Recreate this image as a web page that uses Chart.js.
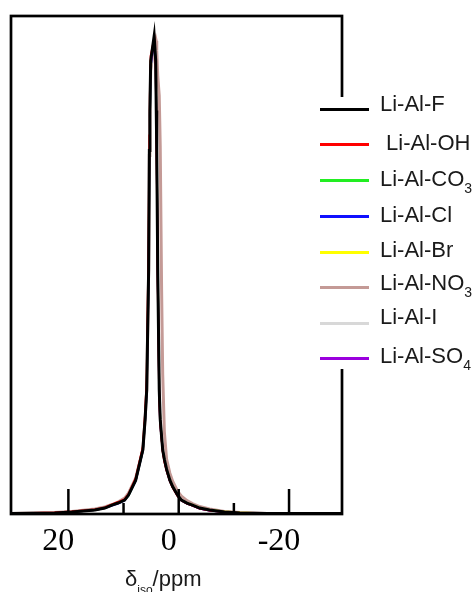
<!DOCTYPE html>
<html>
<head>
<meta charset="utf-8">
<script src="https://cdn.jsdelivr.net/npm/chart.js@4"></script>
<style>
  body { margin: 0; background: #fff; }
  #wrap { position: relative; width: 475px; height: 592px; overflow: hidden; }
  #legend { position: absolute; left: 312px; top: 97px; width: 163px; height: 272px; background: #fff; }
  .swatch { position: absolute; left: 8px; width: 49px; height: 3px; }
  .lab { position: absolute; left: 68px; font: 22px "Liberation Sans", Arial, sans-serif; line-height: 22px; color: #1a1a1a; white-space: pre; }
  .lab sub { font-size: 14px; vertical-align: -7px; line-height: 0; }
  #xtitle { position: absolute; left: 125px; top: 568px; font: 22px "Liberation Sans", Arial, sans-serif; line-height: 22px; color: #1a1a1a; white-space: pre; }
  #xtitle sub { font-size: 12px; vertical-align: -8px; line-height: 0; }
</style>
</head>
<body>
<div id="wrap">
  <canvas id="spec" width="475" height="592"></canvas>
  <div id="legend"></div>
  <div id="xtitle">δ<sub>iso</sub>/ppm</div>
</div>
<script>
// chemical shift grid (ppm), shared by all spectra
var shifts = [30.4, 22.5, 19.4, 15.2, 13.4, 12.1, 11.0, 9.8, 9.1, 7.8, 6.5, 6.1, 5.8, 5.45, 5.32, 5.22, 5.08, 4.45,
              4.17, 4.07, 3.98, 3.8, 3.53, 3.35, 3.1, 2.9, 2.6, 2.2, 1.6, 1.1, 0.2, -0.5, -1.5, -2.5, -3.8, -5.6, -8.3, -11.1, -16, -29.6];

// normalised intensities
var liAlF   = [0.001, 0.002, 0.004, 0.008, 0.012, 0.018, 0.022, 0.028, 0.038, 0.068, 0.129, 0.189, 0.249, 0.49, 0.73, 0.81, 0.91, 0.96,
               0.91, 0.81, 0.73, 0.49, 0.25, 0.19, 0.155, 0.129, 0.11, 0.09, 0.068, 0.055, 0.038, 0.028, 0.022, 0.018, 0.012, 0.008, 0.004, 0.002, 0.001, 0.001];
var liAlOH  = [0.001, 0.003, 0.005, 0.009, 0.013, 0.019, 0.024, 0.030, 0.040, 0.072, 0.135, 0.20, 0.27, 0.55, 0.76, 0.84, 0.92, 0.955,
               0.90, 0.79, 0.70, 0.46, 0.23, 0.18, 0.15, 0.125, 0.105, 0.087, 0.066, 0.053, 0.036, 0.027, 0.021, 0.017, 0.011, 0.007, 0.004, 0.002, 0.001, 0.001];
var liAlCO3 = [0.001, 0.002, 0.004, 0.008, 0.012, 0.018, 0.022, 0.028, 0.037, 0.067, 0.128, 0.187, 0.247, 0.49, 0.72, 0.80, 0.90, 0.95,
               0.90, 0.80, 0.72, 0.48, 0.25, 0.19, 0.153, 0.128, 0.109, 0.089, 0.067, 0.054, 0.037, 0.027, 0.021, 0.017, 0.012, 0.008, 0.004, 0.002, 0.001, 0.001];
var liAlCl  = [0.001, 0.002, 0.004, 0.008, 0.012, 0.017, 0.021, 0.027, 0.037, 0.066, 0.127, 0.186, 0.245, 0.48, 0.72, 0.80, 0.90, 0.95,
               0.91, 0.80, 0.72, 0.48, 0.24, 0.18, 0.152, 0.127, 0.108, 0.088, 0.066, 0.054, 0.037, 0.027, 0.021, 0.017, 0.011, 0.007, 0.004, 0.002, 0.001, 0.001];
var liAlBr  = [0.001, 0.002, 0.004, 0.008, 0.012, 0.018, 0.022, 0.028, 0.038, 0.068, 0.128, 0.188, 0.248, 0.49, 0.73, 0.81, 0.91, 0.95,
               0.91, 0.81, 0.73, 0.49, 0.25, 0.19, 0.154, 0.128, 0.110, 0.090, 0.068, 0.055, 0.038, 0.028, 0.022, 0.018, 0.012, 0.008, 0.005, 0.003, 0.001, 0.001];
var liAlNO3 = [0.001, 0.003, 0.005, 0.010, 0.014, 0.019, 0.024, 0.032, 0.042, 0.072, 0.13, 0.19, 0.249, 0.49, 0.72, 0.80, 0.89, 0.945,
               0.955, 0.95, 0.93, 0.88, 0.84, 0.74, 0.45, 0.28, 0.165, 0.11, 0.082, 0.066, 0.046, 0.036, 0.027, 0.021, 0.015, 0.010, 0.005, 0.003, 0.001, 0.001];
var liAlI   = [0.001, 0.002, 0.004, 0.008, 0.012, 0.018, 0.022, 0.028, 0.038, 0.067, 0.127, 0.185, 0.24, 0.47, 0.70, 0.79, 0.89, 0.95,
               0.92, 0.84, 0.77, 0.52, 0.27, 0.20, 0.16, 0.132, 0.112, 0.092, 0.069, 0.056, 0.039, 0.029, 0.022, 0.018, 0.012, 0.008, 0.004, 0.002, 0.001, 0.001];
var liAlSO4 = [0.001, 0.002, 0.004, 0.008, 0.012, 0.018, 0.022, 0.028, 0.038, 0.068, 0.129, 0.188, 0.248, 0.49, 0.73, 0.81, 0.90, 0.95,
               0.90, 0.80, 0.72, 0.48, 0.25, 0.19, 0.154, 0.128, 0.109, 0.089, 0.067, 0.054, 0.037, 0.027, 0.021, 0.017, 0.011, 0.007, 0.004, 0.002, 0.001, 0.001];

var seriesNames = ["Li-Al-F", " Li-Al-OH", "Li-Al-CO3", "Li-Al-Cl", "Li-Al-Br", "Li-Al-NO3", "Li-Al-I", "Li-Al-SO4"];
var seriesData  = [liAlF, liAlOH, liAlCO3, liAlCl, liAlBr, liAlNO3, liAlI, liAlSO4];

// x-axis labels and tick marks
var majorTicks = [20, 0, -20];
var minorTicks = [10, -10];

// styling
var colors     = ["#000000", "#ff0000", "#22ee22", "#1010ff", "#ffff00", "#c49a96", "#d8d8d8", "#9a00dd"];
var widths     = [3, 2, 2, 2, 2, 3, 2, 2];
var drawOrder  = [0, 1, 3, 4, 5, 7, 6, 2];
var legendLineY = [12, 47, 83, 119, 155, 190, 226, 261];
var legendTextY = [-4, 35, 71, 107, 142, 175, 209, 248];

// frame around the plot plus inward tick marks on the bottom axis
var framePlugin = {
  id: "frame",
  afterDraw: function(chart) {
    var c = chart.ctx, a = chart.chartArea, x = chart.scales.x;
    c.save();
    c.strokeStyle = "#000";
    c.lineWidth = 2.7;
    c.strokeRect(a.left, a.top, a.right - a.left, a.bottom - a.top);
    c.lineWidth = 2.5;
    majorTicks.forEach(function(v) {
      var px = x.getPixelForValue(v);
      c.beginPath(); c.moveTo(px, a.bottom); c.lineTo(px, a.bottom - 25); c.stroke();
    });
    minorTicks.forEach(function(v) {
      var px = x.getPixelForValue(v);
      c.beginPath(); c.moveTo(px, a.bottom); c.lineTo(px, a.bottom - 11); c.stroke();
    });
    c.restore();
  }
};

var datasets = seriesNames.map(function(name, i) {
  return {
    label: name.trim(),
    data: shifts.map(function(s, j) { return {x: s, y: seriesData[i][j]}; }),
    borderColor: colors[i],
    borderWidth: widths[i],
    order: drawOrder[i],
    fill: false,
    pointRadius: 0,
    tension: 0
  };
});

var ctx = document.getElementById("spec").getContext("2d");
var chart = new Chart(ctx, {
  type: "line",
  data: { datasets: datasets },
  options: {
    responsive: false,
    animation: false,
    layout: { padding: { left: 11, top: 16, right: 133, bottom: 0 } },
    plugins: { legend: { display: false }, tooltip: { enabled: false } },
    scales: {
      x: {
        type: "linear",
        reverse: true,
        min: -29.6,
        max: 30.4,
        afterBuildTicks: function(s) { s.ticks = majorTicks.map(function(v) { return {value: v}; }); },
        afterFit: function(s) { s.height = 78; },
        grid: { display: false, drawTicks: false },
        border: { display: false },
        ticks: {
          autoSkip: false,
          maxRotation: 0,
          padding: 8,
          labelOffset: -10,
          color: "#000",
          font: { family: "'Liberation Serif', 'Times New Roman', serif", size: 32 },
          callback: function(v) { return String(v); }
        }
      },
      y: { display: false, min: 0, max: 1 }
    }
  },
  plugins: [framePlugin]
});

// html legend (needs subscripts)
var legend = document.getElementById("legend");
seriesNames.forEach(function(name, i) {
  var sw = document.createElement("div");
  sw.className = "swatch";
  sw.style.top = (legendLineY[i] - 1.5) + "px";
  sw.style.background = colors[i];
  legend.appendChild(sw);
  var lab = document.createElement("div");
  lab.className = "lab";
  lab.style.top = legendTextY[i] + "px";
  lab.innerHTML = name.replace(/(\d)$/, "<sub>$1</sub>");
  legend.appendChild(lab);
});
</script>
</body>
</html>
